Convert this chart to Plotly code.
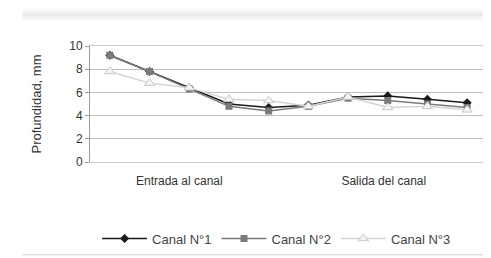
import plotly.graph_objects as go

x_pos = list(range(10))
canal1 = [9.2, 7.8, 6.4, 5.0, 4.7, 4.9, 5.6, 5.7, 5.4, 5.1]
canal2 = [9.2, 7.8, 6.3, 4.8, 4.4, 4.8, 5.5, 5.3, 5.0, 4.7]
canal3 = [7.8, 6.8, 6.4, 5.4, 5.3, 4.8, 5.6, 4.7, 4.8, 4.5]
tick_pos = [1.75, 6.9]
tick_text = ["Entrada al canal", "Salida del canal"]
y_ticks = [0, 2, 4, 6, 8, 10]

fig = go.Figure()
fig.add_trace(go.Scatter(x=x_pos, y=canal1, name="Canal N°1", mode="lines+markers",
                         line=dict(color="#1a1a1a", width=1.5),
                         marker=dict(symbol="diamond", size=7, color="#1a1a1a")))
fig.add_trace(go.Scatter(x=x_pos, y=canal2, name="Canal N°2", mode="lines+markers",
                         line=dict(color="#7a7a7a", width=1.5),
                         marker=dict(symbol="square", size=7, color="#7a7a7a")))
fig.add_trace(go.Scatter(x=x_pos, y=canal3, name="Canal N°3", mode="lines+markers",
                         line=dict(color="#d4d4d4", width=1.5),
                         marker=dict(symbol="triangle-up", size=9, color="#f4f4f4",
                                     line=dict(color="#c8c8c8", width=1))))

# faint top shadow band
for i, op in enumerate([0.15, 0.3, 0.45, 0.3, 0.15]):
    fig.add_shape(type="rect", xref="paper", yref="paper",
                  x0=-0.17, x1=1.03, y0=1.0 + (0.32 - 0.02 * (i + 1)), y1=1.0 + (0.32 - 0.02 * i),
                  fillcolor="#cfcfcf", opacity=op, line_width=0, layer="below")
fig.add_shape(type="line", xref="paper", yref="paper", x0=-0.17, x1=1.03, y0=-0.8, y1=-0.8,
              line=dict(color="#d0d0d0", width=1))

fig.update_layout(
    width=491, height=258,
    margin=dict(l=82, r=12, t=38, b=104, autoexpand=False),
    paper_bgcolor="white", plot_bgcolor="white",
    font=dict(family="Liberation Sans, Arial, sans-serif", size=12, color="#333333"),
    showlegend=True,
    legend=dict(orientation="h", x=0.47, xanchor="center", y=-0.66, yanchor="middle",
                font=dict(size=13, color="#444444"), itemwidth=45, tracegroupgap=0),
)
fig.update_xaxes(range=[-0.5, 9.5], tickvals=tick_pos, ticktext=tick_text, showgrid=False,
                 ticks="", showline=True, linecolor="#cccccc", mirror=True, zeroline=False,
                 ticklabelstandoff=8,
                 tickfont=dict(size=12, color="#333333"))
fig.update_yaxes(range=[0, 10], tickvals=y_ticks, showgrid=True, gridcolor="#bdbdbd", gridwidth=1,
                 ticks="outside", ticklen=4, tickcolor="#999999", showline=True, linecolor="#999999",
                 mirror=True, zeroline=False, tickfont=dict(size=12, color="#333333"),
                 title=dict(text="Profundidad, mm", font=dict(size=13, color="#333333"), standoff=24))

fig.write_html("out.html")
